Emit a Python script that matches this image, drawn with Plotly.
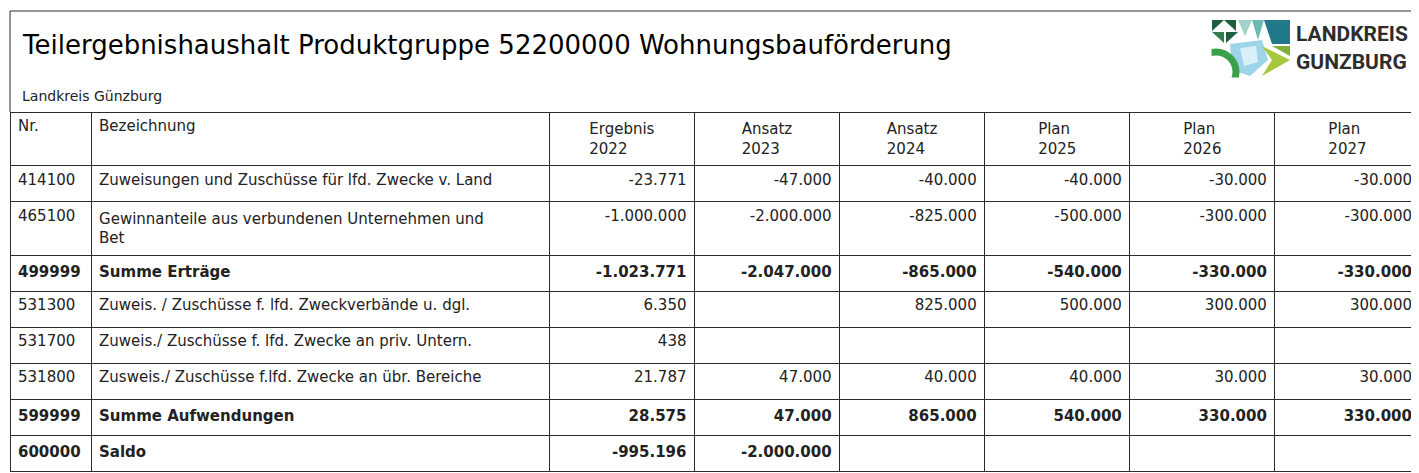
import plotly.graph_objects as go

# --- data ---------------------------------------------------------------
title = "Teilergebnishaushalt Produktgruppe 52200000 Wohnungsbauförderung"
subtitle = "Landkreis Günzburg"

header = ["Nr.", "Bezeichnung", "Ergebnis<br>2022", "Ansatz<br>2023", "Ansatz<br>2024",
          "Plan<br>2025", "Plan<br>2026", "Plan<br>2027"]

nr = ["414100", "465100", "499999", "531300", "531700", "531800", "599999", "600000"]
bezeichnung = [
    "Zuweisungen und Zuschüsse für lfd. Zwecke v. Land",
    "Gewinnanteile aus verbundenen Unternehmen und<br>Bet",
    "Summe Erträge",
    "Zuweis. / Zuschüsse f. lfd. Zweckverbände u. dgl.",
    "Zuweis./ Zuschüsse f. lfd. Zwecke an priv. Untern.",
    "Zusweis./ Zuschüsse f.lfd. Zwecke an übr. Bereiche",
    "Summe Aufwendungen",
    "Saldo",
]
ergebnis_2022 = [-23771, -1000000, -1023771, 6350, 438, 21787, 28575, -995196]
ansatz_2023 = [-47000, -2000000, -2047000, None, None, 47000, 47000, -2000000]
ansatz_2024 = [-40000, -825000, -865000, 825000, None, 40000, 865000, None]
plan_2025 = [-40000, -500000, -540000, 500000, None, 40000, 540000, None]
plan_2026 = [-30000, -300000, -330000, 300000, None, 30000, 330000, None]
plan_2027 = [-30000, -300000, -330000, 300000, None, 30000, 330000, None]
bold_rows = {"499999", "599999", "600000"}

W, H = 1419, 473
OFF = 8  # default body margin of the html page
FONT = "DejaVu Sans, sans-serif"
LINE = "#2b2b2b"


def px(x):
    return (x - OFF) / W


def py(y):
    return 1 - (y - OFF) / H


def fmt(v):
    if v is None:
        return ""
    return f"{v:,}".replace(",", ".")


def bold(col):
    return [f"<b>{t}</b>" if n in bold_rows and t else t for n, t in zip(nr, col)]


columns = [nr, bezeichnung] + [[fmt(v) for v in s] for s in
                               (ergebnis_2022, ansatz_2023, ansatz_2024, plan_2025, plan_2026, plan_2027)]
columns = [bold(c) for c in columns]

fig = go.Figure(go.Table(
    domain=dict(x=[px(10), px(1420)], y=[0, py(112)]),
    columnwidth=[81, 458, 145, 145, 145, 145, 145, 145],
    header=dict(
        values=header,
        align=["left", "left"] + ["center"] * 6,
        height=53,
        line=dict(color=LINE, width=1),
        fill=dict(color="white"),
        font=dict(family=FONT, size=15, color="#222"),
    ),
    cells=dict(
        values=columns,
        align=["left", "left"] + ["right"] * 6,
        height=36,
        line=dict(color=LINE, width=1),
        fill=dict(color="white"),
        font=dict(family=FONT, size=15, color="#222"),
    ),
))

# frame around title block
fig.add_shape(type="line", xref="paper", yref="paper", x0=px(10), x1=px(1420), y0=py(11), y1=py(11),
              line=dict(color=LINE, width=1))
fig.add_shape(type="line", xref="paper", yref="paper", x0=px(10), x1=px(10), y0=py(11), y1=py(112),
              line=dict(color=LINE, width=1))

fig.add_annotation(text=title, xref="paper", yref="paper", x=px(20), y=py(45),
                   xanchor="left", yanchor="middle", showarrow=False,
                   font=dict(family=FONT, size=26, color="#000"))
fig.add_annotation(text=subtitle, xref="paper", yref="paper", x=px(20), y=py(96),
                   xanchor="left", yanchor="middle", showarrow=False,
                   font=dict(family=FONT, size=14, color="#222"))


# --- logo (approximate) ---------------------------------------------------
def px_path(pts):
    return "M " + " L ".join(f"{px(x)},{py(y)}" for x, y in pts) + " Z"


logo_shapes = [
    ([(1212, 20), (1224, 20), (1212, 31)], "#1d5e3c"),
    ([(1224, 20), (1236, 20), (1236, 31)], "#1d5e3c"),
    ([(1212, 32), (1224, 32), (1224, 43)], "#2f7d4a"),
    ([(1226, 32), (1238, 32), (1226, 43)], "#1d5e3c"),
    ([(1238, 20), (1252, 20), (1245, 36)], "#9fd3c7"),
    ([(1252, 20), (1264, 20), (1258, 40)], "#6fb9b2"),
    ([(1264, 20), (1290, 20), (1290, 44), (1272, 44)], "#21798a"),
    ([(1230, 44), (1262, 40), (1268, 60), (1250, 76), (1232, 70)], "#9ed4ea"),
    ([(1240, 48), (1256, 46), (1258, 62), (1244, 66)], "#d9f0f7"),
    ([(1262, 46), (1290, 60), (1262, 76), (1272, 60)], "#a6c83c"),
    ([(1272, 46), (1290, 46), (1290, 56)], "#7fb13a"),
]
for pts, col in logo_shapes:
    fig.add_shape(type="path", xref="paper", yref="paper", path=px_path(pts),
                  fillcolor=col, line=dict(width=0))
# green arc bottom left
fig.add_shape(type="circle", xref="paper", yref="paper",
              x0=px(1196), x1=px(1236), y0=py(92), y1=py(52),
              line=dict(color="#3aa04a", width=7))
fig.add_shape(type="rect", xref="paper", yref="paper", x0=px(1190), x1=px(1211.5),
              y0=py(100), y1=py(40), fillcolor="white", line=dict(width=0))
fig.add_shape(type="rect", xref="paper", yref="paper", x0=px(1190), x1=px(1240),
              y0=py(110), y1=py(77.5), fillcolor="white", line=dict(width=0))

LOGO_FONT = "Roboto, sans-serif"
fig.add_annotation(text="<b>LANDKREIS</b>", xref="paper", yref="paper", x=px(1294), y=py(34),
                   xanchor="left", yanchor="middle", showarrow=False,
                   font=dict(family=LOGO_FONT, size=21, color="#2d2d2d"))
fig.add_annotation(text="<b>GUNZBURG</b>", xref="paper", yref="paper", x=px(1294), y=py(62),
                   xanchor="left", yanchor="middle", showarrow=False,
                   font=dict(family=LOGO_FONT, size=21, color="#2d2d2d"))

fig.update_layout(
    width=W, height=H,
    margin=dict(l=0, r=0, t=0, b=0),
    paper_bgcolor="white",
    plot_bgcolor="white",
)

fig.write_html("out.html")
